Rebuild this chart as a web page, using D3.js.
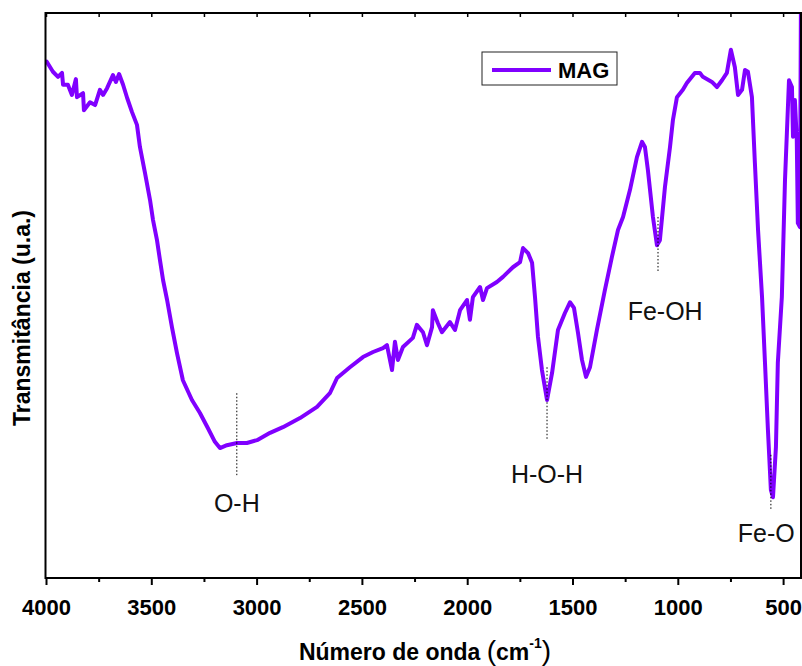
<!DOCTYPE html>
<html>
<head>
<meta charset="utf-8">
<script src="https://cdn.jsdelivr.net/npm/d3@7/dist/d3.min.js"></script>
<style>
  body { margin: 0; background: #fff; }
  svg { display: block; }
</style>
</head>
<body>
<svg id="chart" width="802" height="666"></svg>
<script>
// espectro FTIR (número de onda, transmitância em u.a.)
const wavenumbers = [3997, 3967, 3943, 3924, 3919, 3896, 3877, 3858, 3853, 3824, 3820, 3791, 3767, 3744, 3729, 3710, 3682, 3668, 3653, 3634,
  3615, 3592, 3568, 3554, 3530, 3506, 3492, 3473, 3459, 3444, 3425, 3402, 3378, 3350, 3307, 3269, 3231, 3198, 3174, 3141,
  3093, 3046, 2998, 2936, 2875, 2794, 2713, 2652, 2618, 2557, 2495, 2447, 2400, 2381, 2357, 2343, 2329, 2305, 2258, 2239,
  2210, 2191, 2167, 2163, 2139, 2120, 2082, 2058, 2034, 2001, 1987, 1973, 1939, 1925, 1906, 1859, 1830, 1783, 1749, 1735,
  1711, 1692, 1678, 1664, 1645, 1621, 1597, 1569, 1536, 1512, 1493, 1474, 1455, 1436, 1417, 1384, 1346, 1313, 1284, 1260,
  1227, 1194, 1170, 1156, 1142, 1118, 1099, 1085, 1061, 1037, 1023, 1004, 976, 957, 919, 895, 881, 838, 814, 790,
  767, 748, 729, 714, 695, 681, 667, 648, 634, 619, 600, 586, 572, 558, 548, 534, 525, 506, 491, 482,
  472, 458, 453, 444, 435, 430, 420, 415]
const transmittance = [91.4, 89.6, 88.7, 89.4, 87.3, 87.3, 85.5, 88.3, 85.1, 85.8, 82.8, 84.2, 83.7, 86.4, 85.5, 86.7, 89.0, 87.8, 89.2, 87.3,
  85.0, 82.5, 80.2, 76.3, 71.7, 66.9, 63.4, 59.8, 56.3, 52.7, 49.2, 44.4, 39.8, 35.0, 31.5, 29.2, 26.5, 24.1, 23.0, 23.5,
  23.9, 23.9, 24.4, 25.7, 26.7, 28.3, 30.3, 32.7, 35.4, 37.3, 39.1, 40.0, 40.7, 41.2, 36.8, 41.8, 38.6, 40.9, 42.5, 44.8,
  43.5, 41.2, 44.4, 47.4, 45.1, 43.5, 45.3, 43.9, 47.4, 49.2, 45.7, 49.7, 51.5, 49.2, 51.3, 52.4, 53.3, 55.0, 55.9, 58.4,
  57.5, 55.8, 49.7, 42.7, 36.8, 31.5, 36.3, 43.9, 46.9, 48.8, 47.8, 43.4, 38.6, 35.6, 37.3, 43.9, 51.0, 56.8, 61.6, 63.9,
  68.7, 74.5, 77.2, 76.3, 72.2, 63.9, 58.9, 59.8, 69.2, 76.3, 81.1, 85.1, 86.4, 87.6, 89.4, 89.4, 88.7, 87.8, 86.9, 88.1,
  89.4, 93.5, 90.4, 85.5, 86.4, 89.9, 89.6, 85.1, 73.5, 61.6, 49.7, 38.1, 26.2, 15.6, 14.3, 23.2, 38.1, 49.7, 70.4, 78.8,
  88.1, 86.9, 78.1, 84.6, 77.5, 62.8, 62.1, 105]

const majorTicks = [4000, 3500, 3000, 2500, 2000, 1500, 1000, 500]
const minorTicks = [3750, 3250, 2750, 2250, 1750, 1250, 750]

// bandas: rótulo, posição, topo/base da linha pontilhada, altura do texto
const bandLabels = ['O-H', 'H-O-H', 'Fe-OH', 'Fe-O']
const bandX = [3094, 1621, 1094, 558]
const bandTop = [32.7, 37.3, 63.9, 21.8]
const bandBottom = [18.2, 24.4, 54.0, 12.0]
const bandTextY = [11.7, 16.8, 45.7, 6.4]
const bandTextX = [3094, 1621, 1060, 580]

const seriesName = 'MAG'

const font = '"Liberation Sans", Arial, sans-serif'
const color = '#8000ff'
const plot = { left: 46, right: 801, top: 13, bottom: 578 }

const svg = d3.select('#chart')

const x = d3.scaleLinear().domain([4000, 415]).range([plot.left, plot.right])
const y = d3.scaleLinear().domain([0, 100]).range([plot.bottom, plot.top])

svg.append('defs').append('clipPath').attr('id', 'clip')
  .append('rect')
  .attr('x', plot.left).attr('y', plot.top)
  .attr('width', plot.right - plot.left).attr('height', plot.bottom - plot.top)

const data = wavenumbers.map((w, i) => ({ w: w, t: transmittance[i] }))

const line = d3.line()
  .x(d => x(d.w))
  .y(d => y(d.t))

svg.append('path')
  .datum(data)
  .attr('clip-path', 'url(#clip)')
  .attr('fill', 'none')
  .attr('stroke', color)
  .attr('stroke-width', 4)
  .attr('stroke-linejoin', 'round')
  .attr('stroke-linecap', 'round')
  .attr('d', line)

// linhas pontilhadas e rótulos das bandas
bandLabels.forEach((lab, i) => {
  svg.append('line')
    .attr('x1', x(bandX[i])).attr('x2', x(bandX[i]))
    .attr('y1', y(bandTop[i])).attr('y2', y(bandBottom[i]))
    .attr('stroke', '#000')
    .attr('stroke-width', 1)
    .attr('stroke-dasharray', '1.5,2')
  svg.append('text')
    .attr('x', x(bandTextX[i]))
    .attr('y', y(bandTextY[i]))
    .attr('text-anchor', 'middle')
    .attr('font-family', font)
    .attr('font-size', 25)
    .attr('fill', '#111')
    .text(lab)
})

// eixo inferior
const xAxis = d3.axisBottom(x).tickValues(majorTicks).tickSize(7).tickPadding(14).tickFormat(d3.format('d'))
const gx = svg.append('g').attr('transform', `translate(0,${plot.bottom})`).call(xAxis)
gx.select('.domain').remove()
gx.selectAll('.tick line').attr('stroke-width', 2)
gx.selectAll('.tick text')
  .attr('font-family', font)
  .attr('font-size', 22)
  .attr('font-weight', 'bold')
  .attr('fill', '#000')

const gxm = svg.append('g').attr('transform', `translate(0,${plot.bottom})`)
  .call(d3.axisBottom(x).tickValues(minorTicks).tickSize(4).tickFormat(''))
gxm.select('.domain').remove()
gxm.selectAll('.tick line').attr('stroke-width', 2)

// eixo superior, marcas para dentro
const gt = svg.append('g').attr('transform', `translate(0,${plot.top})`)
  .call(d3.axisBottom(x).tickValues(majorTicks.concat(minorTicks)).tickSize(4).tickFormat(''))
gt.select('.domain').remove()
gt.selectAll('.tick line').attr('stroke-width', 1.5)

// moldura
svg.append('rect')
  .attr('x', plot.left - 0.5).attr('y', plot.top)
  .attr('width', plot.right - plot.left + 0.5).attr('height', plot.bottom - plot.top)
  .attr('fill', 'none')
  .attr('stroke', '#000')
  .attr('stroke-width', 2)

// títulos dos eixos
const xt = svg.append('text')
  .attr('x', 425).attr('y', 660)
  .attr('text-anchor', 'middle')
  .attr('font-family', font)
  .attr('font-weight', 'bold')
  .attr('font-size', 23)
xt.append('tspan').text('Número de onda ')
xt.append('tspan').attr('font-size', 28).attr('font-weight', 'normal').text('(')
xt.append('tspan').text('cm')
xt.append('tspan').attr('font-size', 14).attr('dy', -12).text('-1')
xt.append('tspan').attr('font-size', 28).attr('font-weight', 'normal').attr('dy', 12).text(')')

svg.append('text')
  .attr('transform', `translate(30,318) rotate(-90)`)
  .attr('text-anchor', 'middle')
  .attr('font-family', font)
  .attr('font-weight', 'bold')
  .attr('font-size', 23)
  .text('Transmitância (u.a.)')

// legenda
const lg = svg.append('g').attr('transform', 'translate(482,52)')
lg.append('rect')
  .attr('width', 135).attr('height', 33)
  .attr('fill', '#fff')
  .attr('stroke', '#222')
  .attr('stroke-width', 1)
lg.append('line')
  .attr('x1', 10).attr('x2', 69)
  .attr('y1', 18).attr('y2', 18)
  .attr('stroke', color)
  .attr('stroke-width', 4)
lg.append('text')
  .attr('x', 76).attr('y', 26)
  .attr('font-family', font)
  .attr('font-weight', 'bold')
  .attr('font-size', 22)
  .text(seriesName)
</script>
</body>
</html>
